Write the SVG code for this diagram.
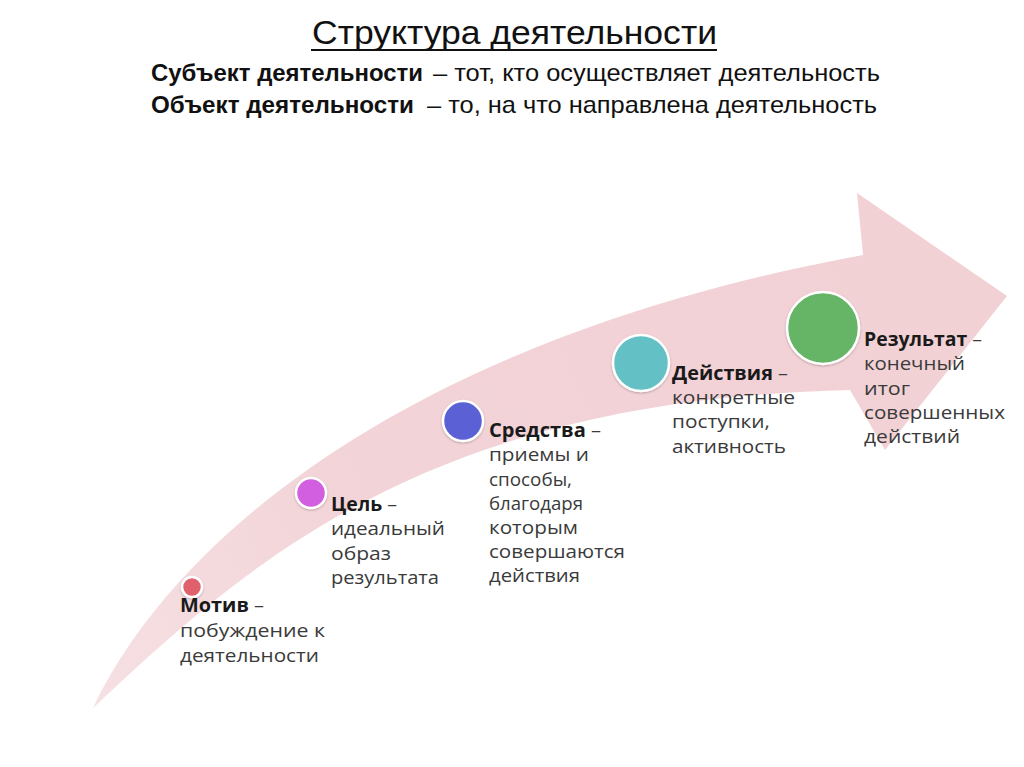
<svg xmlns="http://www.w3.org/2000/svg" width="1024" height="767" viewBox="0 0 1024 767">
  <defs>
    <linearGradient id="arrowFill" gradientUnits="userSpaceOnUse" x1="93" y1="708" x2="1007" y2="296">
      <stop offset="0" stop-color="#f6e0e3"/>
      <stop offset="0.35" stop-color="#f2d3d7"/>
      <stop offset="1" stop-color="#f2d1d5"/>
    </linearGradient>
    <filter id="shadow" x="-30%" y="-30%" width="160%" height="160%">
      <feDropShadow dx="0" dy="1" stdDeviation="1.2" flood-color="#000" flood-opacity="0.25"/>
    </filter>
  </defs>
  <style>
    .title { font-family: "Liberation Sans", Arial, sans-serif; font-size: 34px; fill: #111; }
    .hb { font-family: "Liberation Sans", Arial, sans-serif; font-size: 24px; font-weight: bold; fill: #111; }
    .hr { font-family: "Liberation Sans", Arial, sans-serif; font-size: 24px; fill: #111; }
    .lbl { font-family: "Open Sans", "Liberation Sans", sans-serif; font-size: 19px; fill: #3a3a3a; }
    .lbl .b { font-weight: bold; fill: #1a1a1a; }
    .dot { stroke: #ffffff; stroke-width: 2.5; filter: url(#shadow); }
  </style>
  <rect x="0" y="0" width="1024" height="767" fill="#ffffff"/>

  <g id="header">
    <text class="title" x="312" y="44" textLength="405" lengthAdjust="spacingAndGlyphs">Структура деятельности</text>
    <line x1="311" y1="50" x2="717" y2="50" stroke="#111" stroke-width="2"/>
    <text class="hb" x="151" y="81" textLength="272" lengthAdjust="spacingAndGlyphs">Субъект деятельности</text>
    <text class="hr" x="433" y="81" textLength="447" lengthAdjust="spacingAndGlyphs">– тот, кто осуществляет деятельность</text>
    <text class="hb" x="151" y="113" textLength="263" lengthAdjust="spacingAndGlyphs">Объект деятельности</text>
    <text class="hr" x="427" y="113" textLength="450" lengthAdjust="spacingAndGlyphs">– то, на что направлена деятельность</text>
  </g>

  <g id="arrow">
    <path d="M 93,708 C 170,545 400,340 863,255 L 857,193 L 1007,296 L 885,450 L 850,390 C 430,400 250,560 93,708 Z" fill="url(#arrowFill)"/>
  </g>

  <g id="connectors"></g>

  <g id="node-motiv">
    <circle class="dot" cx="192" cy="587" r="10" fill="#e0606e"/>
    <text class="lbl" x="180" y="612" textLength="84" lengthAdjust="spacingAndGlyphs"><tspan class="b">Мотив</tspan> –</text>
    <text class="lbl" x="180" y="637" textLength="145" lengthAdjust="spacingAndGlyphs">побуждение к</text>
    <text class="lbl" x="180" y="662" textLength="139" lengthAdjust="spacingAndGlyphs">деятельности</text>
  </g>

  <g id="node-cel">
    <circle class="dot" cx="311" cy="493" r="15" fill="#d25ee0"/>
    <text class="lbl" x="331" y="511" textLength="66" lengthAdjust="spacingAndGlyphs"><tspan class="b">Цель</tspan> –</text>
    <text class="lbl" x="331" y="535" textLength="114" lengthAdjust="spacingAndGlyphs">идеальный</text>
    <text class="lbl" x="331" y="560" textLength="60" lengthAdjust="spacingAndGlyphs">образ</text>
    <text class="lbl" x="331" y="584" textLength="108" lengthAdjust="spacingAndGlyphs">результата</text>
  </g>

  <g id="node-sredstva">
    <circle class="dot" cx="463" cy="421" r="20" fill="#5b60d5"/>
    <text class="lbl" x="489" y="437" textLength="112" lengthAdjust="spacingAndGlyphs"><tspan class="b">Средства</tspan> –</text>
    <text class="lbl" x="489" y="461" textLength="100" lengthAdjust="spacingAndGlyphs">приемы и</text>
    <text class="lbl" x="489" y="486" textLength="83" lengthAdjust="spacingAndGlyphs">способы,</text>
    <text class="lbl" x="489" y="510" textLength="94" lengthAdjust="spacingAndGlyphs">благодаря</text>
    <text class="lbl" x="489" y="534" textLength="89" lengthAdjust="spacingAndGlyphs">которым</text>
    <text class="lbl" x="489" y="558" textLength="136" lengthAdjust="spacingAndGlyphs">совершаются</text>
    <text class="lbl" x="489" y="582" textLength="91" lengthAdjust="spacingAndGlyphs">действия</text>
  </g>

  <g id="node-deystviya">
    <circle class="dot" cx="641" cy="363" r="28" fill="#63c1c6"/>
    <text class="lbl" x="672" y="380" textLength="116" lengthAdjust="spacingAndGlyphs"><tspan class="b">Действия</tspan> –</text>
    <text class="lbl" x="672" y="404" textLength="123" lengthAdjust="spacingAndGlyphs">конкретные</text>
    <text class="lbl" x="672" y="428" textLength="98" lengthAdjust="spacingAndGlyphs">поступки,</text>
    <text class="lbl" x="672" y="453" textLength="114" lengthAdjust="spacingAndGlyphs">активность</text>
  </g>

  <g id="node-rezultat">
    <circle class="dot" cx="823" cy="328" r="36" fill="#66b566"/>
    <text class="lbl" x="864" y="346" textLength="118" lengthAdjust="spacingAndGlyphs"><tspan class="b">Результат</tspan> –</text>
    <text class="lbl" x="864" y="370" textLength="101" lengthAdjust="spacingAndGlyphs">конечный</text>
    <text class="lbl" x="864" y="395" textLength="46" lengthAdjust="spacingAndGlyphs">итог</text>
    <text class="lbl" x="864" y="419" textLength="141" lengthAdjust="spacingAndGlyphs">совершенных</text>
    <text class="lbl" x="864" y="443" textLength="96" lengthAdjust="spacingAndGlyphs">действий</text>
  </g>
</svg>
